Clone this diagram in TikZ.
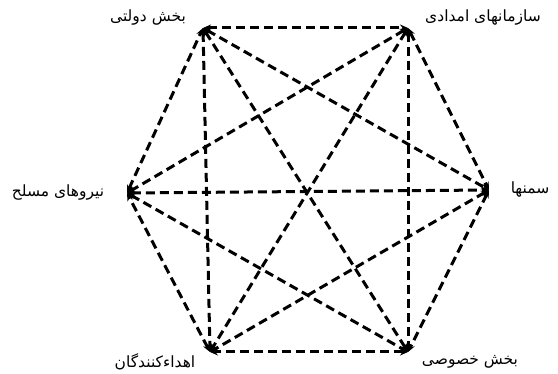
\documentclass[tikz,border=0pt]{standalone}
\usepackage{fontspec}
\TeXXeTstate=1
\newfontfamily\arabicfont[Script=Arabic]{DejaVu Sans}
\usepackage{tikz}
\usetikzlibrary{positioning, arrows.meta}

\begin{document}
\begin{tikzpicture}[
  x=1pt, y=-1pt,
  link/.style={line width=3pt, dash pattern=on 9pt off 5pt,
               {Stealth[length=8pt,width=7pt]}-{Stealth[length=8pt,width=7pt]}},
  tag/.style={font=\arabicfont\fontsize{15.5}{18}\selectfont, inner sep=1pt},
]
\useasboundingbox (0,0) rectangle (558,374);

% Corners of the hexagon
\coordinate (gov)    at (203, 28);
\coordinate (relief) at (408, 28);
\coordinate (army)   at (127,193);
\coordinate (ngo)    at (489,190);
\coordinate (donor)  at (210,352);
\coordinate (priv)   at (408,352);

% Labels
\node[tag] at (148, 18) (govtag)    {\beginR بخش دولتی\endR};
\node[tag] at (483, 18) (relieftag) {\beginR سازمانهای امدادی\endR};
\node[tag] at ( 58,193) (armytag)   {\beginR نیروهای مسلح\endR};
\node[tag] at (530,190) (ngotag)    {\beginR سمنها\endR};
\node[tag] at (155,362) (donortag)  {\beginR اهداءکنندگان\endR};
\node[tag] at (470,362) (privtag)   {\beginR بخش خصوصی\endR};

% Every pair of actors is linked
\foreach \a/\b in {gov/relief, relief/ngo, ngo/priv, priv/donor, donor/army, army/gov,
                   gov/donor, relief/priv, army/ngo,
                   gov/ngo, gov/priv, relief/army, relief/donor, army/priv, ngo/donor}
  \draw[link] (\a) -- (\b);
\end{tikzpicture}
\end{document}
